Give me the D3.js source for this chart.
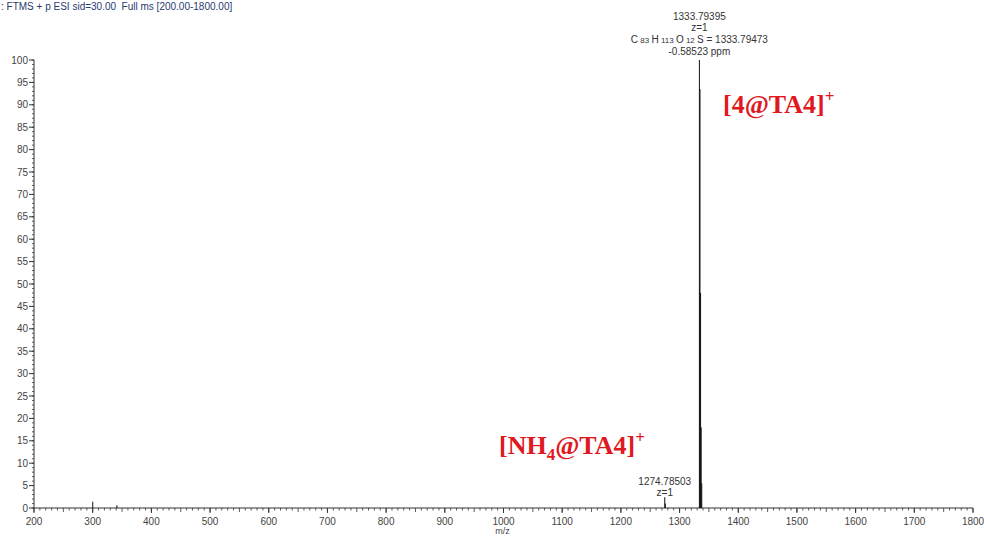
<!DOCTYPE html>
<html>
<head>
<meta charset="utf-8">
<script src="https://cdn.jsdelivr.net/npm/d3@7"></script>
<style>
  body { margin: 0; background: #fff; }
  svg { font-family: "Liberation Sans", Arial, sans-serif; }
</style>
</head>
<body>
<div id="chart-area"></div>
<script>
// spectrum peaks (m/z, relative abundance)
var peakMz   = [300.1, 341.2, 1274.785, 1275.79, 1333.794, 1334.797, 1335.80, 1336.80, 1337.81];
var peakAbun = [1.4,   0.6,   2.4,      1.0,     100,      93.5,     48,      18,      5.5];

var xTicks = d3.range(200, 1801, 100);
var yTicks = d3.range(0, 101, 5);

var headerText = ": FTMS + p ESI sid=30.00  Full ms [200.00-1800.00]";
var mainNote = ["1333.79395", "z=1", null, "-0.58523 ppm"];
var smallNote = ["1274.78503", "z=1"];

var width = 984, height = 538;
var margin = { left: 34, right: 11, top: 60, bottom: 30 };

var svg = d3.select("#chart-area").append("svg")
    .attr("width", width)
    .attr("height", height);

var x = d3.scaleLinear().domain([200, 1800]).range([margin.left, width - margin.right]);
var y = d3.scaleLinear().domain([0, 100]).range([height - margin.bottom, margin.top]);

var axisColor = "#333";

// y axis
var gy = svg.append("g").attr("transform", "translate(" + x(200) + ",0)");
gy.append("line").attr("y1", y(0)).attr("y2", y(100)).attr("stroke", axisColor);
gy.selectAll(".minor").data(d3.range(0, 101, 1)).join("line")
    .attr("x1", -2).attr("x2", 0)
    .attr("y1", d => y(d)).attr("y2", d => y(d))
    .attr("stroke", axisColor).attr("stroke-width", 0.8);
gy.selectAll(".major").data(yTicks).join("line")
    .attr("x1", -5).attr("x2", 0)
    .attr("y1", d => y(d)).attr("y2", d => y(d))
    .attr("stroke", axisColor);
gy.selectAll("text").data(yTicks).join("text")
    .attr("x", -6).attr("y", d => y(d) + 3.5)
    .attr("text-anchor", "end")
    .attr("font-size", 10).attr("fill", "#444")
    .text(d => d);

// x axis
var gx = svg.append("g").attr("transform", "translate(0," + y(0) + ")");
gx.append("line").attr("x1", x(200)).attr("x2", x(1800)).attr("stroke", axisColor);
gx.selectAll(".minor").data(d3.range(200, 1801, 10)).join("line")
    .attr("x1", d => x(d)).attr("x2", d => x(d))
    .attr("y1", 0).attr("y2", d => d % 50 === 0 ? 4 : 2.5)
    .attr("stroke", axisColor).attr("stroke-width", 0.8);
gx.selectAll(".major").data(xTicks).join("line")
    .attr("x1", d => x(d)).attr("x2", d => x(d))
    .attr("y1", 0).attr("y2", 5)
    .attr("stroke", axisColor);
gx.selectAll("text").data(xTicks).join("text")
    .attr("x", d => x(d)).attr("y", 17)
    .attr("text-anchor", "middle")
    .attr("font-size", 10).attr("fill", "#444")
    .text(d => d);
svg.append("text")
    .attr("x", x(1000) - 1).attr("y", height - 4)
    .attr("text-anchor", "middle")
    .attr("font-size", 9).attr("fill", "#444")
    .text("m/z");

// peaks
svg.selectAll(".peak").data(peakMz).join("line")
    .attr("class", "peak")
    .attr("x1", d => x(d)).attr("x2", d => x(d))
    .attr("y1", y(0))
    .attr("y2", (d, i) => y(peakAbun[i]))
    .attr("stroke", "#111")
    .attr("stroke-width", 1);

// header
svg.append("text")
    .attr("x", 1).attr("y", 10)
    .attr("font-size", 10).attr("fill", "#2a3a70")
    .style("white-space", "pre")
    .text(headerText);

// main peak note
var mx = x(1333.794);
var note = svg.append("g").attr("font-size", 10).attr("fill", "#333").attr("text-anchor", "middle");
note.append("text").attr("x", mx).attr("y", 20).text(mainNote[0]);
note.append("text").attr("x", mx).attr("y", 31).text(mainNote[1]);
var f = note.append("text").attr("x", mx).attr("y", 43);
f.append("tspan").text("C");
f.append("tspan").attr("font-size", 8).text(" 83 ");
f.append("tspan").text("H");
f.append("tspan").attr("font-size", 8).text(" 113 ");
f.append("tspan").text("O");
f.append("tspan").attr("font-size", 8).text(" 12 ");
f.append("tspan").text("S = 1333.79473");
note.append("text").attr("x", mx).attr("y", 55).text(mainNote[3]);

// small peak note
var sx = x(1274.785);
note.append("text").attr("x", sx).attr("y", 485).text(smallNote[0]);
note.append("text").attr("x", sx).attr("y", 496).text(smallNote[1]);

// red labels
var red = "#e0191e";
var serif = "'Liberation Serif', 'Times New Roman', serif";
var l1 = svg.append("text")
    .attr("x", 723).attr("y", 113)
    .style("font-family", serif)
    .attr("font-weight", "bold").attr("font-size", 26).attr("fill", red);
l1.append("tspan").text("[4@TA4]");
l1.append("tspan").attr("font-size", 17).attr("dy", -11).text("+");

var l2 = svg.append("text")
    .attr("x", 499).attr("y", 454)
    .style("font-family", serif)
    .attr("font-weight", "bold").attr("font-size", 26).attr("fill", red);
l2.append("tspan").text("[NH");
l2.append("tspan").attr("font-size", 17).attr("dy", 6).text("4");
l2.append("tspan").attr("dy", -6).text("@TA4]");
l2.append("tspan").attr("font-size", 17).attr("dy", -11).text("+");
</script>
</body>
</html>
